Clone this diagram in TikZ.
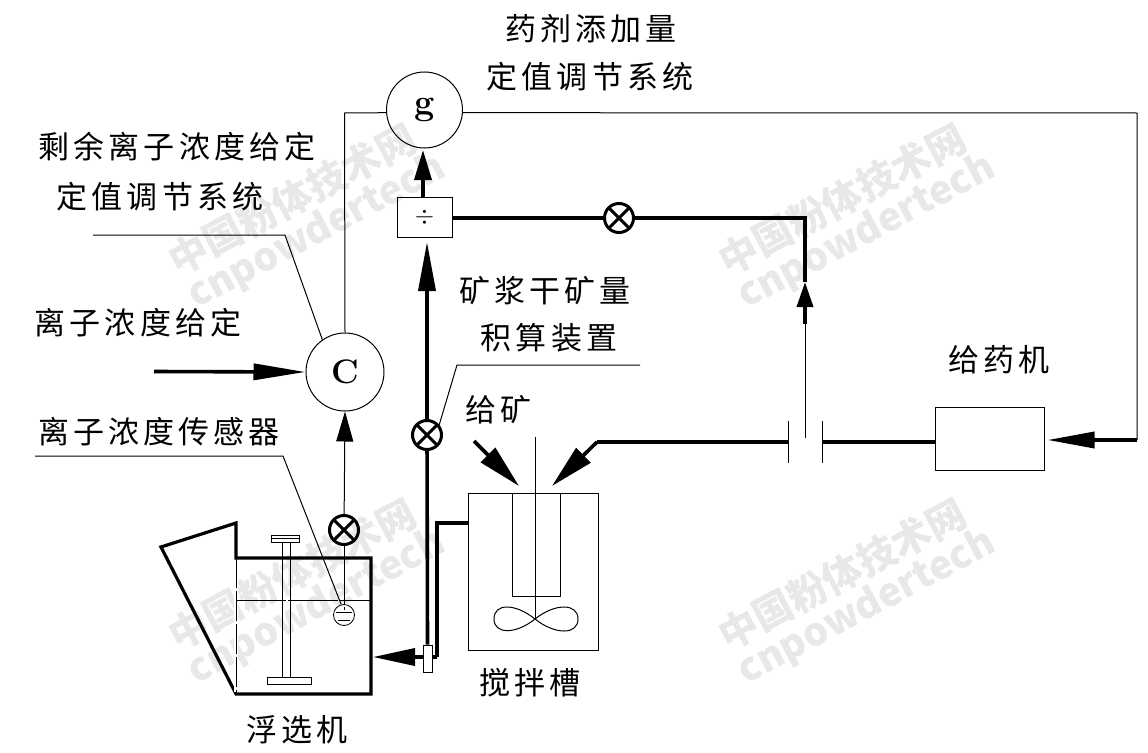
\documentclass[tikz,border=0pt]{standalone}
\usepackage{fontspec}
\newfontfamily\cjk[LetterSpace=13]{Noto Sans CJK SC}
\newfontfamily\wmfont{Noto Sans CJK SC}
\usepackage{tikz}
\usetikzlibrary{arrows.meta,calc}
\definecolor{wmgray}{gray}{0.91}
\tikzset{
lbl/.style={font=\cjk\fontsize{31}{36}\selectfont,inner sep=0pt},
wmcn/.style={font=\wmfont\bfseries\fontsize{39}{42}\selectfont,text=wmgray,rotate=28,inner sep=0pt},
wmen/.style={font=\wmfont\bfseries\fontsize{39}{42}\selectfont,text=wmgray,rotate=28,inner sep=0pt},
ctrl/.style={draw,circle,line width=1pt,minimum size=76pt,inner sep=0pt,font=\bfseries\fontsize{34}{36}\selectfont},
valve/.style={draw,circle,line width=3pt,minimum size=29pt,inner sep=0pt,path picture={
\draw[line width=3pt] (path picture bounding box.north west) -- (path picture bounding box.south east);
\draw[line width=3pt] (path picture bounding box.north east) -- (path picture bounding box.south west);}},
box/.style={draw,line width=1pt,inner sep=0pt},
thinline/.style={line width=1pt},
pipe/.style={line width=3.6pt},
bigtip/.style={-{Triangle[length=30pt,width=17pt]}},
longtip/.style={-{Triangle[length=44pt,width=20pt]}}
}
\begin{document}
\begin{tikzpicture}[x=1pt,y=-1pt]
\useasboundingbox (0,0) rectangle (1148,752);
\foreach \wx/\wy [count=\i] in {0/0,550/0,0/375,550/375}{
\node[wmcn] (wmcn\i) at ({292+\wx},{199+\wy}) {中国粉体技术网};
\node[wmen] (wmen\i) at ({317+\wx},{232+\wy}) {cnpowdertech};
}
\node[ctrl] (gset) at (424.5,110) {\fontsize{36}{38}\selectfont\raisebox{5pt}{g}};
\node[ctrl,minimum size=78pt] (cset) at (345,372) {C};
\node[box,minimum width=55pt,minimum height=40pt] (divbox) at (424.5,217) {\fontsize{26}{26}\selectfont$\div$};
\node[valve] (vratio) at (619,218) {};
\node[valve] (vslurry) at (427,435) {};
\node[valve] (vsensor) at (344,530) {};
\node[draw,circle,line width=0.8pt,minimum size=21pt,inner sep=0pt] (sensor) at (344,615) {};
\node[box,minimum width=109pt,minimum height=63pt] (dosbox) at (989.5,438.5) {};
\node[box,minimum width=130pt,minimum height=157pt] (tank) at (533,571.5) {};
\coordinate (fbnw) at (344.5,113);
\coordinate (fbne) at (1137,113);
\coordinate (fbse) at (1137,440);
\coordinate (gfeed) at (423,197);
\coordinate (gtip) at (423,150);
\coordinate (slurrytip) at (427,242);
\coordinate (corner) at (805,218);
\coordinate (loadtip) at (805,282);
\coordinate (loadmid) at (805,324);
\coordinate (loadend) at (805,438);
\coordinate (plateA) at (788,442);
\coordinate (plateB) at (822,442);
\coordinate (feedA) at (474,441);
\coordinate (feedAtip) at (519,486);
\coordinate (feedB) at (597,442);
\coordinate (feedBtip) at (552,486);
\coordinate (outA) at (437,523);
\coordinate (outB) at (437,657);
\coordinate (outtip) at (373,657);
\coordinate (setin) at (154,371.5);
\coordinate (shafttop) at (535,437);
\coordinate (hub) at (535,619);
\draw[thinline] (gset.184.5) -- (fbnw) -- (cset.north);
\draw[thinline] (gset.-4.5) -- (fbne) -- (fbse);
\draw[pipe,-{Triangle[length=47pt,width=16pt]}] (fbse) -- ($(dosbox.east |- fbse)+(3,0)$);
\draw[pipe,bigtip] (gfeed) -- (gtip);
\draw[pipe] (divbox.east |- vratio) -- (vratio);
\draw[pipe] (vratio) -- (corner) -- (loadtip);
\draw[thinline] (loadend) -- (loadmid);
\draw[pipe,-{Triangle[length=25pt,width=16pt]}] (loadmid) -- (loadtip);
\draw[pipe,-{Triangle[length=49pt,width=17pt]}] (vslurry) -- (slurrytip);
\draw[pipe] (tank.west |- outA) -- (outA) -- (outB);
\draw[pipe,-{Triangle[length=42pt,width=17pt]}] (outB) -- (outtip);
\node[box,minimum width=9pt,minimum height=27pt,fill=white] (flowbox) at (427.5,658.5) {};
\draw[pipe] (flowbox.north) -- (vslurry);
\draw[pipe,longtip] (feedA) -- (feedAtip);
\draw[pipe,longtip] (feedB) -- (feedBtip);
\draw[pipe] (plateA) -- (feedB);
\draw[pipe] (plateB) -- (dosbox.west |- plateB);
\draw[thinline] (plateA) ++(0,-21) -- ++(0,42);
\draw[thinline] (plateB) ++(0,-21) -- ++(0,42);
\draw[thinline,bigtip] (vsensor) -- (cset.south);
\draw[thinline] (sensor.north) -- (vsensor.south);
\draw[pipe,-{Triangle[length=52pt,width=16pt]}] (setin) -- (cset.west);
\draw[thinline] (93,235) -- (285,235) -- (cset.125);
\draw[thinline] (640,365) -- (457,365) -- (vslurry.40);
\draw[thinline] (35,456) -- (283,456) -- (sensor.105);
\draw[thinline] (shafttop) -- (hub);
\draw[thinline] (512,493) -- (512,596) -- (560,596) -- (560,493);
\draw[thinline] (hub) .. controls (515,603) and (494,603) .. (494,619) .. controls (494,634) and (515,635) .. (hub);
\draw[thinline] (hub) .. controls (555,603) and (578,603) .. (578,619) .. controls (578,635) and (555,635) .. (hub);
\draw[line width=3.2pt,line join=miter] (236,558) -- (236,523) -- (161,547) -- (236,694) -- (371,694) -- (371,558) -- cycle;
\draw[white,line width=4pt] (236,560) -- (236,692);
\draw[thinline,dash pattern=on 30pt off 3pt] (236,558) -- (236,694);
\draw[thinline,dash pattern=on 50pt off 2pt] (236,600) -- (371,600);
\draw[thinline] (282,542) -- (282,677);
\draw[thinline] (290,542) -- (290,677);
\draw[thinline] (271,535) rectangle (299,542);
\draw[thinline] (271,538.5) -- (299,538.5);
\draw[thinline] (267,677) rectangle (311,684);
\draw[thinline] (336,612) -- (352,612);
\draw[thinline] (338,620) -- (350,620);
\draw[thinline] (344,607) -- (344,610);
\node[lbl] (lbladd) at (591,29) {药剂添加量};
\node[lbl] (lblsys) at (590,77) {定值调节系统};
\node[lbl] (lblrest) at (177,147) {剩余离子浓度给定};
\node[lbl] (lblsysb) at (160,197) {定值调节系统};
\node[lbl] (lblset) at (138,323) {离子浓度给定};
\node[lbl] (lblsensor) at (159,432) {离子浓度传感器};
\node[lbl] (lblore) at (545,291) {矿浆干矿量};
\node[lbl] (lblint) at (549,338) {积算装置};
\node[lbl] (lblfeed) at (499,410) {给矿};
\node[lbl] (lbldos) at (999,360) {给药机};
\node[lbl] (lbltank) at (530,683) {搅拌槽};
\node[lbl] (lblcell) at (297,730) {浮选机};
\end{tikzpicture}
\end{document}
